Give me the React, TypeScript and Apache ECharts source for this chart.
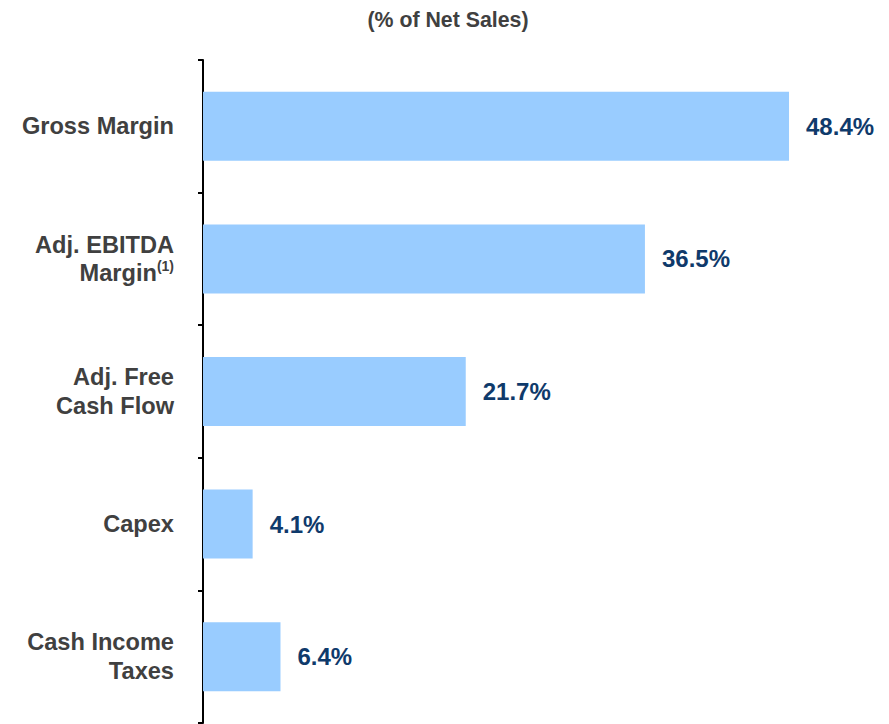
import React, { useEffect, useRef } from "react";
import * as echarts from "echarts";

const categories = [
  "Gross Margin",
  "Adj. EBITDA\nMargin{sup|(1)}",
  "Adj. Free\nCash Flow",
  "Capex",
  "Cash Income\nTaxes",
];
const values = [48.4, 36.5, 21.7, 4.1, 6.4];
const chartTitle = "(% of Net Sales)";

export default function App() {
  const ref = useRef<HTMLDivElement>(null);
  useEffect(() => {
    document.body.style.margin = "0";
    const chart = echarts.init(ref.current!, null, { renderer: "svg" });
    const font = "Arial, 'Liberation Sans', Helvetica, sans-serif";
    chart.setOption({
      animation: false,
      backgroundColor: "#ffffff",
      graphic: [
        {
          type: "text",
          x: 448,
          y: 20,
          style: {
            text: chartTitle,
            fontFamily: font,
            fontWeight: "bold",
            fontSize: 21.3,
            fill: "#404040",
            textAlign: "center",
            textVerticalAlign: "middle",
          },
        },
      ],
      grid: { left: 203, top: 60, bottom: 1, width: 605.4, containLabel: false },
      xAxis: {
        type: "value",
        min: 0,
        max: 50,
        show: false,
      },
      yAxis: {
        type: "category",
        inverse: true,
        data: categories,
        axisLine: { show: true, lineStyle: { color: "#000000", width: 2 } },
        axisTick: { show: true, length: 5, lineStyle: { color: "#000000", width: 2 } },
        axisLabel: {
          margin: 29,
          fontFamily: font,
          fontWeight: "bold",
          fontSize: 23.6,
          lineHeight: 28.5,
          color: "#404040",
          align: "right",
          rich: {
            sup: {
              fontFamily: font,
              fontWeight: "bold",
              fontSize: 14,
              color: "#404040",
              verticalAlign: "top",
              lineHeight: 28.5,
              padding: [0, 0, 10, 0],
            },
          },
        },
      },
      series: [
        {
          type: "bar",
          data: values,
          barWidth: 69,
          itemStyle: { color: "#99CCFF" },
          label: {
            show: true,
            position: "right",
            distance: 17,
            formatter: (p: any) => p.value.toFixed(1) + "%",
            fontFamily: font,
            fontWeight: "bold",
            fontSize: 24,
            color: "#0F3A6B",
          },
        },
      ],
    });
    return () => chart.dispose();
  }, []);
  return <div ref={ref} style={{ width: 889, height: 724 }} />;
}
